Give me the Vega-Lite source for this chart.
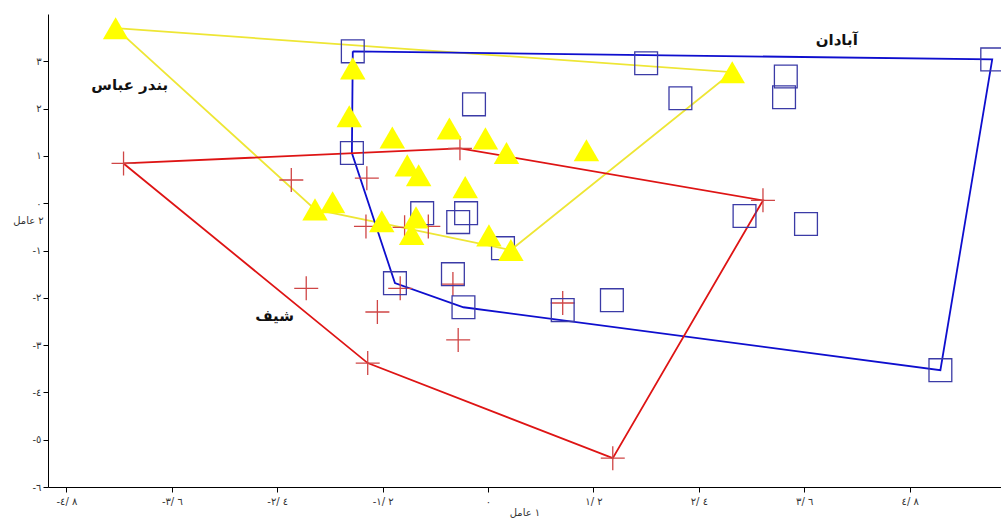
{
  "$schema": "https://vega.github.io/schema/vega-lite/v6.json",
  "width": 953,
  "height": 473,
  "autosize": {"type": "none"},
  "padding": {"left": 48, "top": 14, "right": 0, "bottom": 31},
  "background": "white",
  "config": {"view": {"stroke": null}, "font": "DejaVu Sans"},
  "datasets": {
    "pts": [
      {"group": "بندر عباس", "x": -4.24, "y": 3.70},
      {"group": "بندر عباس", "x": -1.54, "y": 2.85},
      {"group": "بندر عباس", "x": -1.58, "y": 1.84},
      {"group": "بندر عباس", "x": -1.09, "y": 1.39},
      {"group": "بندر عباس", "x": -0.44, "y": 1.58},
      {"group": "بندر عباس", "x": -0.03, "y": 1.37},
      {"group": "بندر عباس", "x": 0.21, "y": 1.06},
      {"group": "بندر عباس", "x": 1.12, "y": 1.12},
      {"group": "بندر عباس", "x": 2.78, "y": 2.77},
      {"group": "بندر عباس", "x": -0.92, "y": 0.80},
      {"group": "بندر عباس", "x": -0.79, "y": 0.59},
      {"group": "بندر عباس", "x": -0.26, "y": 0.34},
      {"group": "بندر عباس", "x": -1.97, "y": -0.13},
      {"group": "بندر عباس", "x": -1.77, "y": 0.02},
      {"group": "بندر عباس", "x": -1.21, "y": -0.38},
      {"group": "بندر عباس", "x": -0.82, "y": -0.30},
      {"group": "بندر عباس", "x": -0.87, "y": -0.65},
      {"group": "بندر عباس", "x": 0.01, "y": -0.68},
      {"group": "بندر عباس", "x": 0.26, "y": -0.99},
      {"group": "آبادان", "x": -1.54, "y": 3.21},
      {"group": "آبادان", "x": 1.80, "y": 2.96},
      {"group": "آبادان", "x": 2.19, "y": 2.22},
      {"group": "آبادان", "x": 3.39, "y": 2.68},
      {"group": "آبادان", "x": 3.37, "y": 2.24},
      {"group": "آبادان", "x": 5.74, "y": 3.04},
      {"group": "آبادان", "x": -0.16, "y": 2.09},
      {"group": "آبادان", "x": -1.55, "y": 1.06},
      {"group": "آبادان", "x": -0.75, "y": -0.21},
      {"group": "آبادان", "x": -0.34, "y": -0.40},
      {"group": "آبادان", "x": -0.25, "y": -0.21},
      {"group": "آبادان", "x": 0.17, "y": -0.95},
      {"group": "آبادان", "x": 2.92, "y": -0.27},
      {"group": "آبادان", "x": 3.62, "y": -0.44},
      {"group": "آبادان", "x": -1.06, "y": -1.69},
      {"group": "آبادان", "x": -0.40, "y": -1.50},
      {"group": "آبادان", "x": -0.28, "y": -2.20},
      {"group": "آبادان", "x": 0.85, "y": -2.26},
      {"group": "آبادان", "x": 1.41, "y": -2.05},
      {"group": "آبادان", "x": 5.15, "y": -3.53},
      {"group": "شیف", "x": -4.15, "y": 0.84},
      {"group": "شیف", "x": -2.24, "y": 0.49},
      {"group": "شیف", "x": -1.38, "y": 0.53},
      {"group": "شیف", "x": -1.39, "y": -0.49},
      {"group": "شیف", "x": -0.32, "y": 1.16},
      {"group": "شیف", "x": -0.95, "y": -0.51},
      {"group": "شیف", "x": -0.68, "y": -0.49},
      {"group": "شیف", "x": 3.13, "y": 0.06},
      {"group": "شیف", "x": -2.07, "y": -1.80},
      {"group": "شیف", "x": -1.00, "y": -1.80},
      {"group": "شیف", "x": -1.26, "y": -2.30},
      {"group": "شیف", "x": -0.40, "y": -1.71},
      {"group": "شیف", "x": -0.34, "y": -2.89},
      {"group": "شیف", "x": -1.37, "y": -3.38},
      {"group": "شیف", "x": 0.85, "y": -2.11},
      {"group": "شیف", "x": 1.42, "y": -5.39}
    ],
    "hull": [
      {"group": "بندر عباس", "ord": 0, "x": -4.24, "y": 3.70},
      {"group": "بندر عباس", "ord": 1, "x": 2.78, "y": 2.77},
      {"group": "بندر عباس", "ord": 2, "x": 0.26, "y": -0.99},
      {"group": "بندر عباس", "ord": 3, "x": -1.97, "y": -0.13},
      {"group": "بندر عباس", "ord": 4, "x": -4.24, "y": 3.70},
      {"group": "آبادان", "ord": 0, "x": -1.54, "y": 3.21},
      {"group": "آبادان", "ord": 1, "x": 5.74, "y": 3.04},
      {"group": "آبادان", "ord": 2, "x": 5.15, "y": -3.53},
      {"group": "آبادان", "ord": 3, "x": -0.28, "y": -2.20},
      {"group": "آبادان", "ord": 4, "x": -1.06, "y": -1.69},
      {"group": "آبادان", "ord": 5, "x": -1.55, "y": 1.06},
      {"group": "آبادان", "ord": 6, "x": -1.54, "y": 3.21},
      {"group": "شیف", "ord": 0, "x": -4.15, "y": 0.84},
      {"group": "شیف", "ord": 1, "x": -0.32, "y": 1.16},
      {"group": "شیف", "ord": 2, "x": 3.13, "y": 0.06},
      {"group": "شیف", "ord": 3, "x": 1.42, "y": -5.39},
      {"group": "شیف", "ord": 4, "x": -1.37, "y": -3.38},
      {"group": "شیف", "ord": 5, "x": -4.15, "y": 0.84}
    ],
    "labels": [
      {"label": "بندر عباس", "x": -4.08, "y": 2.49},
      {"label": "آبادان", "x": 3.97, "y": 3.44},
      {"label": "شیف", "x": -2.43, "y": -2.39}
    ]
  },
  "encoding": {
    "x": {
      "field": "x",
      "type": "quantitative",
      "scale": {"domain": [-5.01, 5.84], "nice": false, "zero": false},
      "axis": {
        "values": [-4.8, -3.6, -2.4, -1.2, 0, 1.2, 2.4, 3.6, 4.8],
        "labelExpr": "['\u202d-٤/ ٨', '\u202d-٣/ ٦', '\u202d-٢/ ٤', '\u202d-١/ ٢', '٠', '\u202d١/ ٢', '\u202d٢/ ٤', '\u202d٣/ ٦', '\u202d٤/ ٨'][round(datum.value / 1.2) + 4]",
        "title": "\u202d\u202bعامل\u202c ۱\u202c",
        "grid": false,
        "domainColor": "black",
        "tickColor": "black",
        "tickSize": 5,
        "labelFontSize": 10,
        "labelColor": "#333",
        "labelPadding": 4,
        "labelFlush": false,
        "titleFontSize": 10,
        "titleFontWeight": "normal",
        "titleColor": "#333",
        "titlePadding": 1
      }
    },
    "y": {
      "field": "y",
      "type": "quantitative",
      "scale": {"domain": [-6, 4], "nice": false, "zero": false},
      "axis": {
        "values": [-6, -5, -4, -3, -2, -1, 0, 1, 2, 3],
        "labelExpr": "'\u202d' + (datum.value < 0 ? '-' : '') + ['٠', '١', '٢', '٣', '٤', '٥', '٦'][abs(round(datum.value))]",
        "title": "\u202d\u202bعامل\u202c ۲\u202c",
        "titleAngle": 0,
        "titleX": -20,
        "titleY": 206,
        "titleAlign": "center",
        "titleBaseline": "middle",
        "titleFontSize": 10,
        "titleFontWeight": "normal",
        "titleColor": "#333",
        "grid": false,
        "domainColor": "black",
        "tickColor": "black",
        "tickSize": 5,
        "labelFontSize": 10,
        "labelColor": "#333",
        "labelPadding": 2
      }
    }
  },
  "layer": [
    {
      "data": {"name": "hull"},
      "mark": {"type": "line", "strokeWidth": 1.8},
      "encoding": {
        "order": {"field": "ord", "type": "quantitative"},
        "color": {
          "field": "group",
          "type": "nominal",
          "scale": {"domain": ["بندر عباس", "آبادان", "شیف"], "range": ["#EEE635", "#0E0ECE", "#DE1414"]},
          "legend": null
        }
      }
    },
    {
      "data": {"name": "pts"},
      "transform": [{"filter": "datum.group === 'شیف'"}],
      "mark": {"type": "point", "shape": "M-1,0L1,0M0,-1L0,1", "filled": false, "color": "#CF4646", "strokeWidth": 1.3, "size": 576, "opacity": 1}
    },
    {
      "data": {"name": "pts"},
      "transform": [{"filter": "datum.group === 'آبادان'"}],
      "mark": {"type": "point", "shape": "square", "filled": false, "color": "#3B3BA6", "strokeWidth": 1.3, "size": 520, "opacity": 1}
    },
    {
      "data": {"name": "pts"},
      "transform": [{"filter": "datum.group === 'بندر عباس'"}],
      "mark": {"type": "point", "shape": "triangle-up", "filled": true, "color": "#FFFF00", "strokeWidth": 0, "size": 650, "opacity": 1}
    },
    {
      "data": {"name": "labels"},
      "mark": {"type": "text", "font": "DejaVu Sans", "fontWeight": "bold", "fontSize": 15, "color": "#111"},
      "encoding": {"text": {"field": "label", "type": "nominal"}}
    }
  ]
}
